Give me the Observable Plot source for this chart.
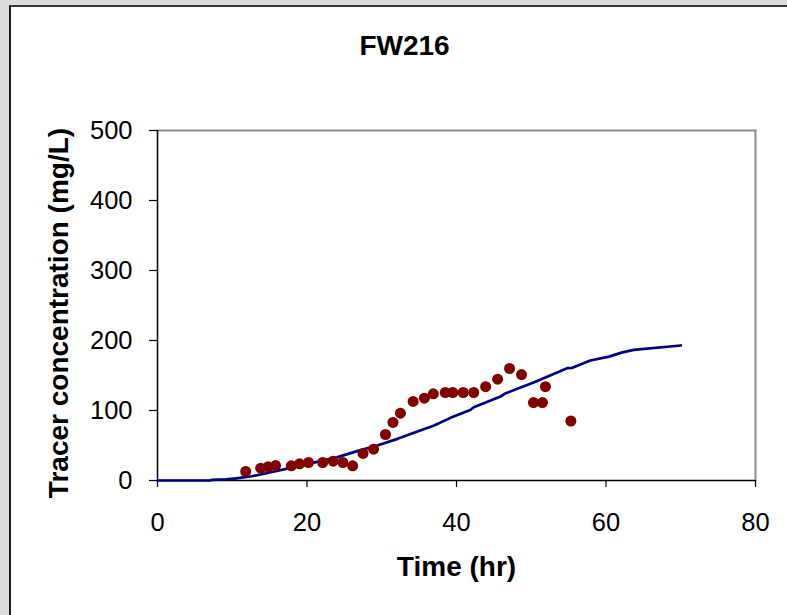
<!DOCTYPE html>
<html>
<head>
<meta charset="utf-8">
<script src="https://cdn.jsdelivr.net/npm/d3@7"></script>
<script src="https://cdn.jsdelivr.net/npm/@observablehq/plot@0.6"></script>
<style>
  html, body { margin: 0; padding: 0; }
  body { width: 787px; height: 615px; background: #dcdcdc; position: relative; overflow: hidden; font-family: "Liberation Sans", Arial, sans-serif; }
  #panel { position: absolute; left: 9px; top: 5px; width: 800px; height: 640px; background: #fff; border-left: 2px solid #1e1e1e; border-top: 2px solid #3a3a3a; }
  #chart { position: absolute; left: 0; top: 0; }
  #chart svg { background: transparent; overflow: visible; }
</style>
</head>
<body>
<div id="panel"></div>
<div id="chart"></div>
<script>
// Title and axis labels
const titleText = "FW216";
const xLabel = "Time (hr)";
const yLabel = "Tracer concentration (mg/L)";

// Tick values
const xTicks = [0, 20, 40, 60, 80];
const yTicks = [0, 100, 200, 300, 400, 500];

// Observed tracer concentrations (dots)
const obsTime = [11.8, 13.8, 14.8, 15.8, 17.9, 19.0, 20.2, 22.1, 23.5, 24.8, 26.1, 27.5, 28.9, 30.5, 31.5, 32.5, 34.2, 35.7, 36.9, 38.5, 39.5, 40.9, 42.3, 43.9, 45.5, 47.1, 48.7, 50.3, 51.5, 51.9, 55.3];
const obsConc = [12.9, 17.6, 19.5, 21.4, 21.0, 23.8, 25.7, 25.7, 27.6, 25.7, 21.0, 38.6, 44.8, 65.7, 82.9, 96.2, 112.9, 117.6, 123.8, 125.7, 125.7, 125.7, 125.7, 134.0, 144.8, 160.0, 151.4, 111.4, 111.4, 134.0, 85.0];

// Modelled tracer concentration (line)
const modTime = [0, 7.0, 7.3, 9.2, 10.5, 12.4, 13.8, 17.8, 24.0, 26.7, 29.4, 32.1, 37.0, 39.2, 41.9, 42.3, 45.9, 46.6, 50.4, 54.8, 55.5, 57.9, 60.4, 62.2, 63.7, 70.0];
const modConc = [0, 0, 1.0, 1.5, 3.0, 5.7, 8.6, 18.0, 33.0, 42.0, 50.0, 59.5, 78.6, 89.5, 101.0, 104.7, 120.0, 124.7, 140.5, 160.5, 161.0, 171.4, 177.0, 183.0, 186.6, 192.9];

const obs = obsTime.map((t, i) => ({t, c: obsConc[i]}));
const mod = modTime.map((t, i) => ({t, c: modConc[i]}));

const font = "'Liberation Sans', Arial, Helvetica, sans-serif";

const chart = Plot.plot({
  width: 787,
  height: 615,
  marginLeft: 157,
  marginRight: 32,
  marginTop: 130,
  marginBottom: 135,
  style: {fontFamily: font, background: "transparent", color: "#000"},
  x: {domain: [0, 80], ticks: xTicks},
  y: {domain: [0, 500], ticks: yTicks},
  marks: [
    Plot.frame({anchor: "top", stroke: "#8c8c8c", strokeWidth: 2}),
    Plot.frame({anchor: "right", stroke: "#8c8c8c", strokeWidth: 2}),
    Plot.axisX({ticks: xTicks, tickSize: 7, tickPadding: 25, fontSize: 25.5, label: null, stroke: "#000", strokeWidth: 1.2, tickFormat: d => String(d)}),
    Plot.axisY({ticks: yTicks, tickSize: 8, tickPadding: 17, fontSize: 25.5, label: null, stroke: "#000", strokeWidth: 1.2, tickFormat: d => String(d)}),
    Plot.ruleY([0], {stroke: "#000", strokeWidth: 1.5}),
    Plot.ruleX([0], {stroke: "#000", strokeWidth: 1.5}),
    Plot.line(mod, {x: "t", y: "c", stroke: "#000080", strokeWidth: 2.7, curve: "linear"}),
    Plot.dot(obs, {x: "t", y: "c", r: 5.5, fill: "#800000", stroke: "none"}),
    Plot.text([titleText], {frameAnchor: "top", dx: -52, dy: -84.5, lineAnchor: "middle", textAnchor: "middle", fontSize: 28, fontWeight: "bold", fill: "#000"}),
    Plot.text([xLabel], {frameAnchor: "bottom", dy: 87, lineAnchor: "middle", textAnchor: "middle", fontSize: 28, fontWeight: "bold", fill: "#000"}),
    Plot.text([yLabel], {frameAnchor: "left", dx: -98.5, dy: 7.5, rotate: -90, lineAnchor: "middle", textAnchor: "middle", fontSize: 28, fontWeight: "bold", fill: "#000"})
  ]
});
document.getElementById("chart").appendChild(chart);
</script>
</body>
</html>
